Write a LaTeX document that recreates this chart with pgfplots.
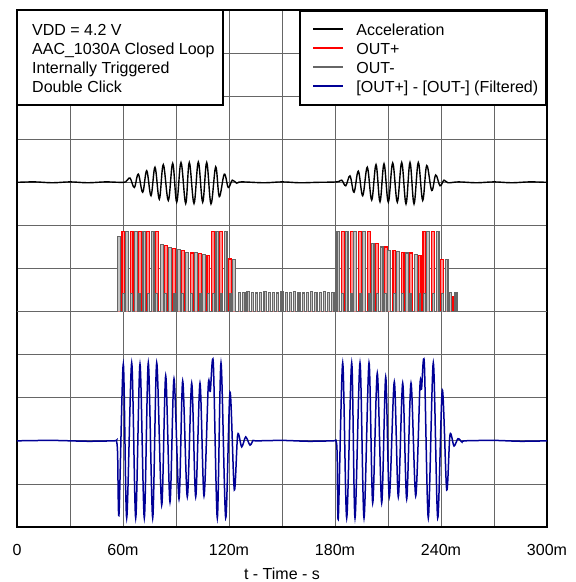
\documentclass[border=0pt]{standalone}
\usepackage{fontspec}
\setmainfont{Liberation Sans}
\usepackage{pgfplots}
\pgfplotsset{compat=1.18}
\definecolor{outm}{HTML}{666666}
\definecolor{filt}{HTML}{000096}
\newcommand{\lbl}{\fontsize{16}{19}\selectfont}

\begin{document}
\begin{tikzpicture}
\begin{axis}[
  scale only axis, width=530pt, height=517pt,
  xmin=0, xmax=300, ymin=0, ymax=12,
  font=\lbl,
  xtick={0,60,...,300}, xticklabels={0,60m,120m,180m,240m,300m},
  minor xtick={30,90,...,270},
  ytick={0,1,...,12}, yticklabels={},
  major tick length=0pt, minor tick length=0pt,
  grid=both,
  major grid style={black!60, line width=0.7pt},
  minor grid style={black!60, line width=0.7pt},
  axis line style={line width=1.6pt},
  xticklabel style={anchor=base, yshift=-28pt},
  xlabel={t - Time - s},
  xlabel style={at={(axis description cs:0.5,0)}, anchor=base, yshift=-52pt},
  legend style={at={(1,1)}, anchor=north east, draw=black, line width=1.6pt,
    font=\lbl, inner xsep=6.5pt, inner ysep=9pt, row sep=0pt,
    nodes={inner sep=1.5pt, text height=14pt, text depth=2pt}},
  legend cell align=left,
  legend image code/.code={\path (0pt,0pt) (47pt,0pt); \draw[line width=2pt] (6pt,0pt) -- (36pt,0pt);},
]

% Acceleration
\addplot[black, line width=1.4pt, smooth, tension=0.6] coordinates {
(0,8.0) (10,8.01) (20,7.99) (30,8.01) (40,7.99) (50,8.01) (58,8.0) (61.5,8.01)
(63.96,8.10) (66.40,7.88) (68.66,8.19) (71.15,7.77) (73.42,8.27) (75.85,7.69)
(78.11,8.35) (80.55,7.61) (82.81,8.41) (85.64,7.58) (88.13,8.44) (90.40,7.54)
(92.83,8.46) (95.49,7.51) (97.53,8.46) (100.19,7.51) (102.62,8.47) (105.11,7.54)
(107.38,8.46) (109.81,7.50) (112.47,8.36) (114.51,7.67) (117.34,8.19) (119.60,7.88)
(121.87,8.05) (124.36,7.98) (127,8.01) (140,7.99) (150,8.01) (160,7.99) (170,8.0) (181,8.01)
(183.79,8.05) (186.06,7.92) (188.49,8.15) (190.75,7.77) (193.19,8.26) (195.68,7.69)
(198.28,8.35) (200.77,7.59) (203.21,8.41) (205.47,7.55) (207.74,8.43) (210.17,7.54)
(212.66,8.45) (215.26,7.54) (217.75,8.46) (220.19,7.50) (222.45,8.46) (224.72,7.50)
(227.15,8.46) (229.64,7.58) (231.91,8.39) (234.74,7.81) (237.00,8.17) (239.43,7.92)
(241.70,8.05) (243.96,7.99) (250,8.01) (260,7.99) (270,8.01) (280,7.99) (290,8.01) (300,8.0)
};
\addlegendentry{Acceleration}

% OUT+
\addplot[red, fill=red!45, line width=1.2pt, const plot] coordinates {
(0,5)
(59.4,6.85) (61.0,5) (64.1,6.85) (65.7,5) (68.8,6.85) (70.4,5) (73.5,6.85) (75.1,5)
(78.3,6.85) (79.9,5) (83.4,6.53) (85.0,5) (88.1,6.47) (89.7,5) (93.0,6.42) (94.6,5)
(98.1,6.36) (99.7,5) (102.8,6.35) (104.4,5) (107.5,6.31) (108.9,5) (110.2,6.85) (111.9,5)
(114.7,6.85) (116.3,5) (119.8,6.22) (121.4,5)
(183.6,6.85) (185.2,5) (188.7,6.85) (190.3,5) (193.4,6.85) (195.0,5) (198.5,6.85) (200.1,5)
(203.1,6.58) (204.7,5) (207.9,6.50) (209.5,5) (212.8,6.42) (214.4,5) (217.5,6.38) (219.1,5)
(222.2,6.36) (223.8,5) (227.3,6.31) (228.7,5) (229.8,6.85) (231.4,5) (234.8,6.85) (236.4,5)
(239.9,6.20) (241.5,5) (246.3,5.35) (247.1,5)
(300,5)
};
\addlegendentry{OUT+}

% OUT-
\addplot[outm, fill=outm!40, line width=1.2pt, const plot] coordinates {
(0,5)
(57.0,6.75) (58.5,5) (59.7,5.42) (60.7,5) (61.3,6.85) (62.9,5) (64.4,5.42) (65.4,5)
(66.4,6.85) (68.0,5) (69.1,5.42) (70.1,5) (71.3,6.85) (72.9,5) (73.8,5.42) (74.8,5)
(76.0,6.85) (77.6,5) (78.6,5.42) (79.6,5) (81.1,6.55) (82.7,5) (83.7,5.42) (84.7,5)
(85.8,6.49) (87.4,5) (88.4,5.42) (89.4,5) (90.9,6.45) (92.5,5) (93.3,5.42) (94.3,5)
(95.6,6.38) (97.2,5) (98.4,5.42) (99.4,5) (100.4,6.38) (102.0,5) (103.1,5.42) (104.1,5)
(105.1,6.33) (106.7,5) (107.8,5.42) (108.8,5) (110.6,5.42) (111.6,5)
(112.6,6.85) (114.2,5) (115.0,5.42) (116.0,5) (117.3,6.85) (118.9,5) (120.1,5.42) (121.1,5)
(122.2,6.20) (123.8,5)
(125.4,5.45) (126.6,5) (127.8,5.44) (129.0,5) (130.2,5.46) (131.4,5) (132.6,5.45) (133.8,5)
(135.0,5.43) (136.2,5) (137.4,5.45) (138.6,5) (139.8,5.46) (141.0,5) (142.2,5.44) (143.4,5)
(144.6,5.45) (145.8,5) (147.0,5.43) (148.2,5) (149.4,5.46) (150.6,5) (151.8,5.45) (153.0,5)
(154.2,5.44) (155.4,5) (156.6,5.46) (157.8,5) (159.0,5.45) (160.2,5) (161.4,5.43) (162.6,5)
(163.8,5.45) (165.0,5) (166.2,5.46) (167.4,5) (168.6,5.44) (169.8,5) (171.0,5.45) (172.2,5)
(173.4,5.46) (174.6,5) (175.8,5.44) (177.0,5) (178.2,5.45) (179.4,5)
(181.1,6.85) (182.7,5) (183.9,5.42) (184.9,5) (185.8,6.85) (187.4,5) (189.0,5.42) (190.0,5)
(190.5,6.85) (192.1,5) (193.7,5.42) (194.7,5) (195.6,6.85) (197.2,5) (198.8,5.42) (199.8,5)
(200.5,6.58) (202.1,5) (203.4,5.42) (204.4,5) (205.6,6.50) (207.2,5) (208.2,5.42) (209.2,5)
(209.9,6.42) (211.5,5) (213.1,5.42) (214.1,5) (215.0,6.40) (216.6,5) (217.8,5.42) (218.8,5)
(219.8,6.36) (221.4,5) (222.5,5.42) (223.5,5) (224.9,6.33) (226.5,5) (227.6,5.42) (228.6,5)
(230.1,5.42) (231.0,5) (232.0,6.85) (233.6,5) (235.1,5.42) (236.1,5) (237.3,6.85) (238.9,5)
(240.2,5.42) (241.2,5) (242.4,6.20) (244.0,5) (244.9,5.45) (246.0,5) (247.9,5.45) (249.0,5)
(300,5)
};
\addlegendentry{OUT-}

% [OUT+] - [OUT-] filtered
\addplot[filt, line width=1.5pt, smooth, tension=0.5] coordinates {
(0,2.0) (20,2.01) (40,1.99) (55.0,2.0) (56.3,2.0) (56.95,1.7)
(57.74,0.30) (60.17,3.78) (62.09,0.21) (64.92,3.81) (67.19,0.21) (69.62,3.78)
(72.06,0.21) (74.32,3.81) (76.81,0.21) (79.08,3.81) (81.91,0.51) (84.17,3.51)
(86.60,0.58) (88.87,3.44) (91.70,0.65) (93.79,3.39) (96.40,0.70) (98.89,3.34)
(101.15,0.70) (103.58,3.34) (105.85,0.72) (108.28,3.30) (109.4,3.15) (111.11,3.81)
(113.38,0.21) (115.47,3.81) (118.13,0.21) (120.57,3.13) (123.00,0.86)
(124.92,2.14) (127.19,1.86) (129.45,2.09) (131.89,1.90) (133.75,2.02) (135,2.0)
(150,2.01) (165,1.99) (179.0,2.0) (180.6,2.0) (181.2,1.7)
(181.87,0.21) (184.36,3.81) (186.62,0.21) (189.45,3.81) (191.32,0.21) (194.15,3.81)
(196.42,0.21) (199.25,3.81) (201.34,0.56) (203.94,3.57) (206.43,0.56) (208.70,3.48)
(210.74,0.70) (213.57,3.37) (215.83,0.70) (218.32,3.34) (220.58,0.65) (223.02,3.34)
(225.68,0.72) (228.11,3.30) (228.96,3.20) (230.55,3.81) (232.81,0.21) (235.64,3.81)
(238.13,0.21) (240.74,3.18) (243.23,0.86)
(245.09,2.14) (247.36,1.88) (249.62,2.05) (251.89,1.97) (253.5,2.0)
(270,2.01) (285,1.99) (300,2.0)
};
\addlegendentry{[OUT+] - [OUT-] (Filtered)}

\filldraw[fill=white, draw=black, line width=1.6pt] (rel axis cs:0,1) rectangle (rel axis cs:0.3887,0.8162);
\node[anchor=base west, align=left, inner sep=0pt, font=\lbl, xshift=15pt, yshift=-82.7pt]
  at (rel axis cs:0,1) {VDD = 4.2 V\\AAC\_1030A Closed Loop\\Internally Triggered\\Double Click};
\end{axis}
\pgfresetboundingbox
\path ([shift={(-17pt,-55pt)}]current axis.south west) rectangle ([shift={(28pt,10pt)}]current axis.north east);
\end{tikzpicture}
\end{document}
